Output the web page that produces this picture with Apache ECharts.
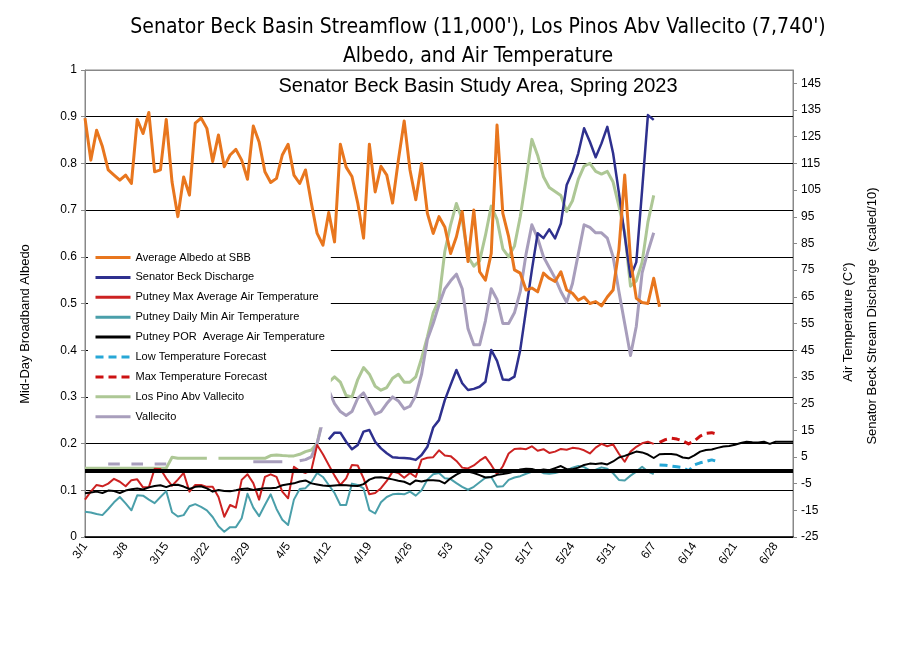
<!DOCTYPE html>
<html><head><meta charset="utf-8">
<script src="https://cdn.jsdelivr.net/npm/echarts/dist/echarts.min.js"></script>
<style>html,body{margin:0;padding:0;background:#fff}#c{width:909px;height:660px}</style>
</head><body><div id="c"></div>
<script>
const dates = ['3/1','3/2','3/3','3/4','3/5','3/6','3/7','3/8','3/9','3/10','3/11','3/12','3/13','3/14','3/15','3/16','3/17','3/18','3/19','3/20','3/21','3/22','3/23','3/24','3/25','3/26','3/27','3/28','3/29','3/30','3/31',
'4/1','4/2','4/3','4/4','4/5','4/6','4/7','4/8','4/9','4/10','4/11','4/12','4/13','4/14','4/15','4/16','4/17','4/18','4/19','4/20','4/21','4/22','4/23','4/24','4/25','4/26','4/27','4/28','4/29','4/30',
'5/1','5/2','5/3','5/4','5/5','5/6','5/7','5/8','5/9','5/10','5/11','5/12','5/13','5/14','5/15','5/16','5/17','5/18','5/19','5/20','5/21','5/22','5/23','5/24','5/25','5/26','5/27','5/28','5/29','5/30','5/31',
'6/1','6/2','6/3','6/4','6/5','6/6','6/7','6/8','6/9','6/10','6/11','6/12','6/13','6/14','6/15','6/16','6/17','6/18','6/19','6/20','6/21','6/22','6/23','6/24','6/25','6/26','6/27','6/28','6/29','6/30','7/1'];

// Average Albedo at SBB (left axis), from 3/1
const albedo = [0.897,0.807,0.871,0.836,0.786,0.775,0.764,0.775,0.757,0.894,
0.864,0.909,0.782,0.786,0.894,0.76,0.686,0.771,0.732,0.886,
0.897,0.875,0.804,0.861,0.793,0.818,0.830,0.807,0.766,0.880,
0.846,0.782,0.759,0.768,0.818,0.841,0.775,0.757,0.786,0.715,
0.650,0.625,0.695,0.632,0.841,0.792,0.772,0.715,0.640,0.841,
0.739,0.794,0.775,0.715,0.807,0.891,0.786,0.722,0.800,0.693,
0.650,0.686,0.664,0.607,0.643,0.697,0.590,0.700,0.568,0.550,
0.607,0.882,0.693,0.643,0.572,0.565,0.529,0.533,0.525,0.565,
0.554,0.547,0.568,0.529,0.522,0.507,0.514,0.500,0.504,0.495,
0.514,0.529,0.615,0.775,0.593,0.511,0.502,0.500,0.554,0.493];

// Senator Beck Discharge (scaled/10), from 4/12
const dischargeStart = '4/12';
const discharge = [11.6,14.1,14.1,10.7,7.9,9.5,14.5,15.1,10.7,8.2,6.4,4.9,4.7,4.6,4.4,3.9,5.7,8.8,
16,18.8,26.3,32,37.6,32.6,30.1,30.5,31.3,33.2,45.1,41,34,33.8,35.1,45.1,60.1,75,88.8,87,90.3,86.9,92.5,106.9,111.9,118.8,128.2,123.1,117.3,122.5,128.7,118.8,104,88,72.5,78,105,133.1,131.3];

// Putney Max Average Air Temperature, from 3/1
const tMax = [-11,-8,-5.5,-6,-5,-3.2,-4.3,-6,-3.7,-3.4,
-6.4,-6.4,0.6,0.5,-3,-5.8,-3.5,-1,-8,-5.5,
-5.5,-6.2,-6.2,-10,-17.4,-13,-14,-3.6,-1.5,-4.8,
-11,-2.5,-1.5,-2.5,-8,-10.5,1.3,-0.2,-1,0,
9.5,6,2,-2,-5.5,-3,2,1.8,-3,-9,
-8.5,-6.7,-4,-0.5,-1,-2.8,-1,-2.5,4,4.7,
4.9,7.5,5.5,5.3,3.5,1,0.7,1.8,3.6,5,2,
-1.5,1.5,6.3,8,8.2,7.9,9,7.3,7.9,6.5,
7,8,7.7,8.4,8.2,7.5,6.3,8.5,9.9,9,
9.7,6.2,3.2,7,8.8,10.1,10.7,9.9];

// Putney Daily Min Air Temperature, from 3/1
const tMin = [-15.5,-15.8,-16.4,-16.8,-14.5,-12,-10,-12.4,-15,-9.4,
-9.5,-11,-12.3,-10,-7.8,-15.7,-17.3,-16.8,-13.5,-12.7,
-13.7,-15,-17.5,-21,-23,-21.3,-21.3,-18,-8.8,-14,
-17.2,-13,-9,-14.5,-18.5,-20.5,-11,-7,-6.7,-4.5,
-1,-2.5,-5.5,-8.5,-13,-13,-5,-5.5,-6.8,-14.9,
-16.2,-12,-10,-9,-8.8,-9,-8,-9.5,-7.5,-3.5,
-1.5,-1,-3,-3.3,-4.8,-6.2,-7.3,-6.2,-4.5,-2.8,-2.5,
-6.2,-6,-3.6,-2.7,-2.2,-1.3,-0.6,0,-1.1,-1.3,
-1,-0.5,0,1,1.6,1.2,0,0.2,1.1,0.6,
-1.1,-3.6,-3.8,-2,-0.5,1.3,-0.5,-1.4];

// Putney POR Average Air Temperature, from 3/1 to 7/1
const tPor = [-8.6,-8.3,-8,-8.5,-7.6,-7.8,-8.5,-7.6,-7.1,-6.8,
-7.2,-6.4,-5.9,-5.6,-6.3,-5.5,-5.4,-6.1,-7,-6.2,
-6,-6.8,-8,-7.4,-7.8,-7.9,-7.5,-7,-6.8,-7.4,
-7,-6.7,-6.7,-6.5,-5.6,-5.2,-4.9,-4.2,-3.8,-4.9,
-5.3,-5.7,-5.9,-5.7,-5.5,-5.6,-5.8,-5.9,-5.2,-3.5,
-2.7,-2.6,-3,-3.4,-3.9,-4.3,-5.3,-3.8,-4.2,-3.7,
-3.7,-3.9,-4.9,-3,-1.6,-0.5,-0.5,-1,-1.8,-2.7,-2.5,
-1.7,-1.4,-1,-0.5,0.3,0.6,0.5,-0.2,0.3,0,
0.8,1.6,0.4,0.4,1,2,2.5,2.4,2.6,2.2,
3.3,4.8,5.4,6.2,7,6.7,5.9,4.6,6,6.1,
6.1,5.8,4.8,4.5,5.6,7,7.6,7.8,8.4,8.9,
9.1,9.6,10.2,10.7,10.5,10.4,10.7,9.9,10.7,10.7,
10.7,10.7];

// Forecasts, from 6/8
const forecastStart = '6/8';
const lowForecast = [2,1.9,1.6,1.3,1,-0.2,2,2.8,3.3,3.9,3.3];
const maxForecast = [10.5,11.5,12,11.7,11,9.9,11,12.8,13.8,14.1,13.5];

// Los Pino Abv Vallecito (scaled), from 3/1
const losPinos = [0.8,0.8,0.8,0.8,0.8,0.8,0.8,0.8,0.8,0.8,0.8,0.8,0.8,0.8,0.8,
4.9,4.5,4.5,4.5,4.5,4.5,4.5,null,4.5,4.5,4.5,4.5,4.5,4.5,4.5,4.5,4.5,
5.5,5.7,5.5,5.4,5.4,6,7,7.6,10,20,
33,35,33,28,27.5,34,38.5,36,31.5,30,
31,34.5,36,33,33,35,42,50,
59,64,82,92,100,94,80,76.5,78.5,88,99,94,83,80,84,95,109,124,118,110,106,104.5,103,97,101,109,114,115,112,111,112,108,99,89,69,71,78,93,103];

// Vallecito (scaled), from 3/1
const vallecito = [null,null,null,null,2.4,2.4,2.4,null,2.4,2.4,2.4,null,2.4,2.4,2.4,
null,null,null,null,null,null,null,null,null,null,null,null,null,null,
3.2,3.2,3.2,3.2,3.2,3.2,null,null,
3.6,4,5,10.1,18.8,
30,25,22,20.5,22,27,29,25,21,22,
25,27.5,26,23,24,28,36,49,
55,62,68,71,73.5,68,53,47,47,56,68,64,55,55,59,67,81,92,87,80,76,72,67,63,70,81,92,91,89,89,87,80,67,55,43,54,74,82,89];

const albedoTicks = ['0','0.1','0.2','0.3','0.4','0.5','0.6','0.7','0.8','0.9','1'];

const fromDate = (start, arr) => { const s = dates.indexOf(start); return arr.map((v,i)=>[dates[s+i], v]); };

const LS = "'Liberation Sans', Arial, sans-serif";
const NARROW = "'Liberation Sans Narrow', 'DejaVu Sans Condensed', sans-serif";

function line(name, data, color, width, yIdx, type, z) {
  return {type:'line', name, data, yAxisIndex:yIdx, symbol:'none', showSymbol:false, connectNulls:false,
    lineStyle:{color, width, type: type || 'solid', cap:'butt', join:'round'}, itemStyle:{color}, z: z||2, animation:false, silent:true};
}

const chart = echarts.init(document.getElementById('c'), null, {renderer:'canvas'});
const porSeries = line('Putney POR  Average Air Temperature', tPor, '#000000', 2, 1, 'solid', 3);
porSeries.markLine = {silent:true, symbol:'none', label:{show:false}, animation:false,
  lineStyle:{color:'#000', width:4, type:'solid'}, data:[{yAxis:0}]};

const option = {
  animation:false,
  backgroundColor:'#fff',
  grid:{left:85, right:116, top:70, bottom:123, show:true, borderColor:'#888', borderWidth:1, containLabel:false},
  legend:{
    orient:'vertical', left:88, top:247, itemWidth:35, itemHeight:10, itemGap:8.9,
    backgroundColor:'#fff', padding:[5,6,5,6],
    textStyle:{fontFamily:LS, fontSize:11, color:'#000'},
    lineStyle:{width:3},
    itemStyle:{opacity:0, borderWidth:0},
    data:['Average Albedo at SBB','Senator Beck Discharge','Putney Max Average Air Temperature','Putney Daily Min Air Temperature','Putney POR  Average Air Temperature','Low Temperature Forecast','Max Temperature Forecast','Los Pino Abv Vallecito','Vallecito']
  },
  xAxis:{type:'category', data:dates, boundaryGap:false,
    axisLine:{lineStyle:{color:'#000', width:1.5}}, axisTick:{show:false},
    axisLabel:{interval:6, rotate:55, fontSize:12, fontFamily:LS, color:'#000', margin:7},
    splitLine:{show:false}},
  yAxis:[
    {type:'value', min:0, max:1, interval:0.1, position:'left',
     axisLine:{show:true, lineStyle:{color:'#888'}}, axisTick:{show:true, length:4, lineStyle:{color:'#888'}},
     axisLabel:{fontSize:12, fontFamily:LS, color:'#000', margin:8, formatter:(v)=>albedoTicks[Math.round(v*10)]},
     splitLine:{show:true, lineStyle:{color:['#000','#000','#000','#000','#000','#000','#000','#000','#000','#000','#888'], width:1}}},
    {type:'value', min:-25, max:150, interval:10, position:'right',
     axisLine:{show:true, lineStyle:{color:'#888'}}, axisTick:{show:true, length:4, lineStyle:{color:'#888'}},
     axisLabel:{fontSize:12, fontFamily:LS, color:'#000', margin:8, showMaxLabel:false},
     splitLine:{show:false}}
  ],
  graphic:[
    {type:'text', x:478, y:28, style:{text:"Senator Beck Basin Streamflow (11,000'), Los Pinos Abv Vallecito (7,740')", font:"21px "+NARROW, fill:'#000', align:'center', verticalAlign:'middle', textAlign:'center', textVerticalAlign:'middle'}},
    {type:'text', x:478, y:57, style:{text:"Albedo, and Air Temperature", font:"21px "+NARROW, fill:'#000', align:'center', verticalAlign:'middle', textAlign:'center', textVerticalAlign:'middle'}},
    {type:'text', x:478, y:86, z:10, style:{text:"Senator Beck Basin Study Area, Spring 2023", font:"20px "+LS, fill:'#000', align:'center', verticalAlign:'middle', textAlign:'center', textVerticalAlign:'middle'}},
    {type:'text', x:25, y:324, rotation:Math.PI/2, style:{text:"Mid-Day Broadband Albedo", font:"13px "+LS, fill:'#000', align:'center', verticalAlign:'middle', textAlign:'center', textVerticalAlign:'middle'}},
    {type:'text', x:848, y:322, rotation:Math.PI/2, style:{text:"Air Temperature (C\u00b0)", font:"13px "+LS, fill:'#000', align:'center', verticalAlign:'middle', textAlign:'center', textVerticalAlign:'middle'}},
    {type:'text', x:872, y:316, rotation:Math.PI/2, style:{text:"Senator Beck Stream Discharge  (scaled/10)", font:"13px "+LS, fill:'#000', align:'center', verticalAlign:'middle', textAlign:'center', textVerticalAlign:'middle'}}
  ],
  series:[
    line('Los Pino Abv Vallecito', losPinos, '#ADC795', 3, 1),
    line('Vallecito', vallecito, '#A89EBC', 3, 1),
    line('Senator Beck Discharge', fromDate(dischargeStart, discharge), '#2E308E', 2.5, 1),
    line('Putney Max Average Air Temperature', tMax, '#CC2222', 2, 1),
    line('Putney Daily Min Air Temperature', tMin, '#4A9FAA', 2, 1),
    porSeries,
    line('Low Temperature Forecast', fromDate(forecastStart, lowForecast), '#27A7D6', 3, 1, [8,5]),
    line('Max Temperature Forecast', fromDate(forecastStart, maxForecast), '#CC1111', 3, 1, [8,5]),
    line('Average Albedo at SBB', albedo, '#E8761E', 3, 0, 'solid', 4)
  ]
};
chart.setOption(option);
</script></body></html>
